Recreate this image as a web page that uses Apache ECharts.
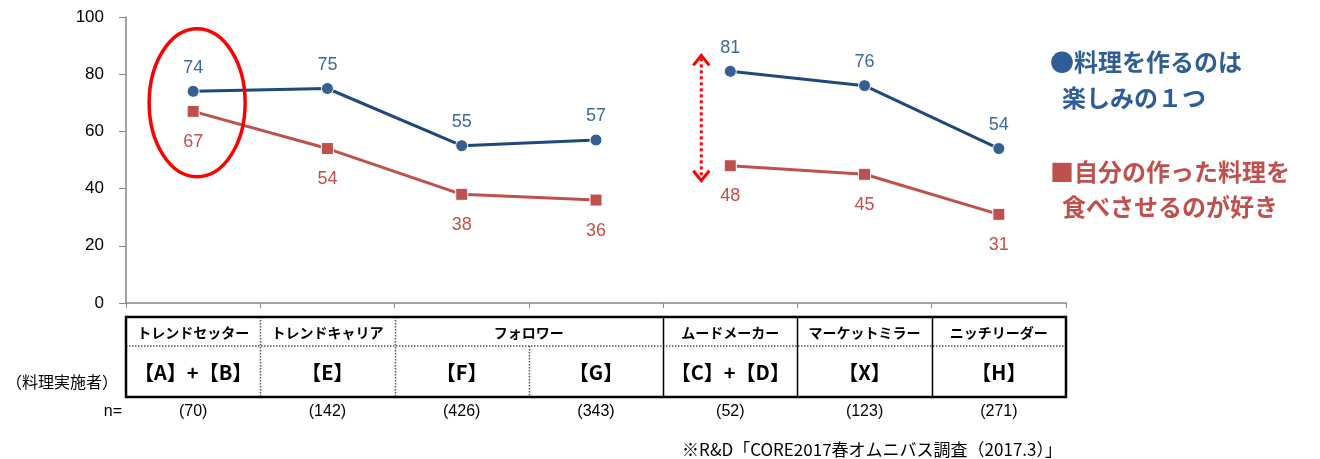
<!DOCTYPE html>
<html>
<head>
<meta charset="utf-8">
<script src="https://cdn.jsdelivr.net/npm/echarts@6/dist/echarts.min.js"></script>
<style>
  html, body { margin: 0; padding: 0; background: #fff; }
  #chart { width: 1320px; height: 459px; }
</style>
</head>
<body>
<div id="chart"></div>
<script>
// Segment columns and their values
const categories = ['【A】+【B】', '【E】', '【F】', '【G】', '【C】+【D】', '【X】', '【H】'];
const segmentNames = [
  { name: 'トレンドセッター', from: 0, to: 0 },
  { name: 'トレンドキャリア', from: 1, to: 1 },
  { name: 'フォロワー', from: 2, to: 3 },
  { name: 'ムードメーカー', from: 4, to: 4 },
  { name: 'マーケットミラー', from: 5, to: 5 },
  { name: 'ニッチリーダー', from: 6, to: 6 }
];
const sampleSizes = ['(70)', '(142)', '(426)', '(343)', '(52)', '(123)', '(271)'];

const enjoyCookingA = [74, 75, 55, 57, null, null, null];
const enjoyCookingB = [null, null, null, null, 81, 76, 54];
const likeFeedingA = [67, 54, 38, 36, null, null, null];
const likeFeedingB = [null, null, null, null, 48, 45, 31];

const legendBlue = ['●料理を作るのは', '楽しみの１つ'];
const legendRed = ['■自分の作った料理を', '食べさせるのが好き'];
const footnote = '※R&D「CORE2017春オムニバス調査（2017.3）」';

const BLUE_LINE = '#1F497D';
const BLUE_MARK = '#376092';
const BLUE_TEXT = '#3D6A9E';
const RED = '#C0504D';
const NUM_FONT = 'Liberation Sans, Arial, sans-serif';
const JP_FONT = '"Noto Sans CJK JP", sans-serif';

const chart = echarts.init(document.getElementById('chart'));

function blueSeries(data) {
  return {
    type: 'line', data: data, connectNulls: false,
    symbol: 'circle', symbolSize: 12,
    lineStyle: { color: BLUE_LINE, width: 3 },
    itemStyle: { color: BLUE_MARK, borderColor: '#fff', borderWidth: 1 },
    label: { show: true, position: 'top', distance: 8, color: BLUE_TEXT, fontSize: 18, fontFamily: NUM_FONT },
    z: 3, animation: false
  };
}
function redSeries(data) {
  return {
    type: 'line', data: data, connectNulls: false,
    symbol: 'rect', symbolSize: 12,
    lineStyle: { color: RED, width: 3 },
    itemStyle: { color: RED, borderColor: '#fff', borderWidth: 1 },
    label: { show: true, position: 'bottom', distance: 15, color: RED, fontSize: 18, fontFamily: NUM_FONT },
    z: 2, animation: false
  };
}

chart.setOption({
  animation: false,
  grid: { left: 126, right: 254, top: 17, bottom: 156 },
  xAxis: {
    type: 'category', data: categories, boundaryGap: true,
    axisLine: { lineStyle: { color: '#868686', width: 1.5 } },
    axisTick: { show: true, length: 5, lineStyle: { color: '#868686' } },
    axisLabel: { show: false }
  },
  yAxis: {
    type: 'value', min: 0, max: 100, interval: 20,
    axisLine: { show: true, lineStyle: { color: '#868686', width: 1.5 } },
    axisTick: { show: true, length: 7, inside: false, lineStyle: { color: '#868686' } },
    splitLine: { show: false },
    axisLabel: { color: '#000', fontSize: 17, fontFamily: NUM_FONT, margin: 22 }
  },
  series: [
    redSeries(likeFeedingA), redSeries(likeFeedingB),
    blueSeries(enjoyCookingA), blueSeries(enjoyCookingB)
  ]
});

// Table, legend text and annotations laid out from the axis scale
function layoutGraphics() {
  const n = categories.length;
  const c0 = chart.convertToPixel({ xAxisIndex: 0 }, 0);
  const c1 = chart.convertToPixel({ xAxisIndex: 0 }, 1);
  const band = c1 - c0;
  const edge = i => c0 - band / 2 + i * band;   // left edge of column i
  const center = i => c0 + i * band;
  const left = edge(0), right = edge(n);
  const top = 317, mid = 346, bottom = 397;

  const g = [];
  const solid = { stroke: '#000', lineWidth: 1.5 };
  const dotted = { stroke: '#555', lineWidth: 1.5, lineDash: [1.5, 1.5] };
  const line = (x1, y1, x2, y2, style) => g.push({ type: 'line', shape: { x1, y1, x2, y2 }, style, silent: true, z: 10 });

  // outer frame
  g.push({ type: 'rect', shape: { x: left, y: top, width: right - left, height: bottom - top },
           style: { fill: 'none', stroke: '#000', lineWidth: 2.5 }, z: 11 });
  // row divider
  line(left, mid, right, mid, dotted);
  // column dividers: segment boundaries are solid on the right half, dotted on the left
  for (let i = 1; i < n; i++) {
    const x = Math.round(edge(i)) + 0.5;
    const isSegBoundary = segmentNames.some(s => s.from === i);
    if (!isSegBoundary) {
      line(x, mid, x, bottom, dotted);
    } else if (i >= 4) {
      line(x, top, x, bottom, solid);
    } else {
      line(x, top, x, bottom, dotted);
    }
  }
  // segment names
  segmentNames.forEach(s => {
    g.push({ type: 'text', x: (center(s.from) + center(s.to)) / 2, y: (top + mid) / 2 + 1,
      style: { text: s.name, fill: '#000', font: 'bold 14px ' + JP_FONT, align: 'center', verticalAlign: 'middle' }, z: 12 });
  });
  // group codes and sample sizes
  categories.forEach((c, i) => {
    g.push({ type: 'text', x: center(i), y: (mid + bottom) / 2 + 1,
      style: { text: c, fill: '#000', font: 'bold 20px ' + JP_FONT, align: 'center', verticalAlign: 'middle' }, z: 12 });
    g.push({ type: 'text', x: center(i), y: 412,
      style: { text: sampleSizes[i], fill: '#000', font: '16px ' + NUM_FONT, align: 'center', verticalAlign: 'middle' }, z: 12 });
  });
  g.push({ type: 'text', x: 118, y: 382,
    style: { text: '（料理実施者）', fill: '#000', font: '16px ' + JP_FONT, align: 'right', verticalAlign: 'middle' } });
  g.push({ type: 'text', x: 122, y: 412,
    style: { text: 'n=', fill: '#000', font: '16px ' + NUM_FONT, align: 'right', verticalAlign: 'middle' } });
  g.push({ type: 'text', x: 1062, y: 450,
    style: { text: footnote, fill: '#000', font: '17px ' + JP_FONT, align: 'right', verticalAlign: 'middle' } });

  // legend text
  const lx = 1050, lx2 = 1062;
  legendBlue.forEach((t, k) => g.push({ type: 'text', x: k ? lx2 : lx, y: 62 + k * 36,
    style: { text: t, fill: '#2F5D95', font: 'bold 24px ' + JP_FONT, align: 'left', verticalAlign: 'middle' } }));
  legendRed.forEach((t, k) => g.push({ type: 'text', x: k ? lx2 : lx, y: 172 + k * 35,
    style: { text: t, fill: RED, font: 'bold 24px ' + JP_FONT, align: 'left', verticalAlign: 'middle' } }));

  // highlight ellipse around the first column
  const ey = chart.convertToPixel({ yAxisIndex: 0 }, 70);
  g.push({ type: 'ellipse', shape: { cx: center(0) + 4, cy: ey, rx: 48, ry: 74 },
    style: { fill: 'none', stroke: '#FF0000', lineWidth: 3.5 }, z: 5 });

  // dotted double arrow showing the gap in the mood-maker column
  const ax = center(4) - 29;
  const ya = chart.convertToPixel({ yAxisIndex: 0 }, enjoyCookingB[4]) - 16;
  const yb = chart.convertToPixel({ yAxisIndex: 0 }, likeFeedingB[4]) + 15;
  line(ax, ya + 3, ax, yb - 3, { stroke: '#FF0000', lineWidth: 3, lineDash: [3, 3] });
  g.push({ type: 'polyline', shape: { points: [[ax - 8, ya + 10], [ax, ya], [ax + 8, ya + 10]] },
    style: { stroke: '#FF0000', lineWidth: 3, fill: 'none' }, z: 10 });
  g.push({ type: 'polyline', shape: { points: [[ax - 8, yb - 10], [ax, yb], [ax + 8, yb - 10]] },
    style: { stroke: '#FF0000', lineWidth: 3, fill: 'none' }, z: 10 });

  chart.setOption({ graphic: g });
}
layoutGraphics();
</script>
</body>
</html>
